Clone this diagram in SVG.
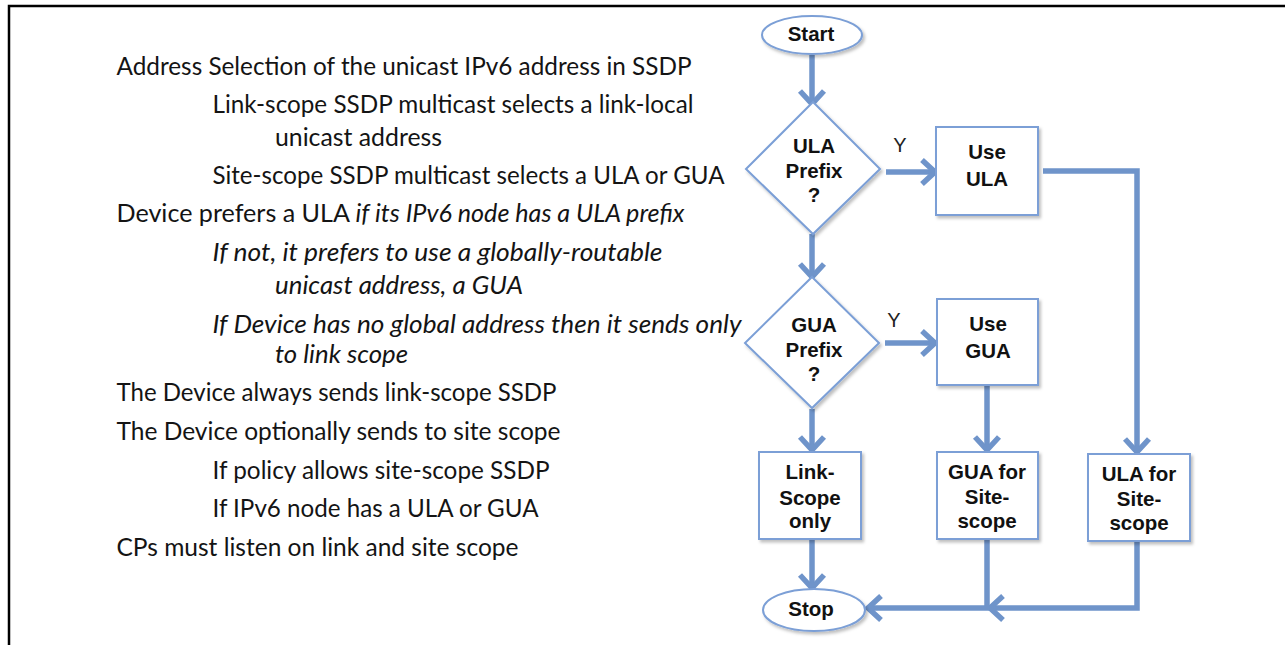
<svg xmlns="http://www.w3.org/2000/svg" width="1285" height="645" viewBox="0 0 1285 645">
  <defs>
    <style>
      .notes { font-family: Lato, "Liberation Sans", sans-serif; font-size: 24.5px; fill: #141414; }
      .it { font-style: italic; }
      .lbl { font-family: "Liberation Sans", Arial, sans-serif; font-size: 20.5px; font-weight: bold; fill: #111; text-anchor: middle; }
      .yes { font-family: "Liberation Sans", Arial, sans-serif; font-size: 20px; fill: #222; text-anchor: middle; }
      .shape { fill: #ffffff; stroke: #7b9fd6; stroke-width: 2; filter: url(#shadow); }
      .flow { fill: none; stroke: #6f94ca; stroke-width: 5.5; stroke-linejoin: miter; }
    </style>
    <filter id="shadow" x="-10%" y="-10%" width="125%" height="125%">
      <feDropShadow dx="2" dy="2.5" stdDeviation="1.5" flood-color="#000" flood-opacity="0.25"/>
    </filter>
    <marker id="head" markerUnits="userSpaceOnUse" markerWidth="30" markerHeight="30" viewBox="-16 -15 20 30" refX="0" refY="0" orient="auto">
      <path d="M -13 -12 L 0 0 L -13 12" fill="none" stroke="#6f94ca" stroke-width="5.5" stroke-linejoin="miter"/>
    </marker>
  </defs>

  <rect width="1285" height="645" fill="#ffffff"/>
  <!-- frame -->
  <path d="M 9 645 L 9 6 L 1285 6" fill="none" stroke="#000" stroke-width="2.5"/>

  <!-- notes -->
  <g id="notes" class="notes">
    <text x="116.5" y="75" textLength="575" lengthAdjust="spacingAndGlyphs">Address Selection of the unicast IPv6 address in SSDP</text>
    <text x="212.5" y="113" textLength="481" lengthAdjust="spacingAndGlyphs">Link-scope SSDP multicast selects a link-local</text>
    <text x="275" y="146" textLength="167" lengthAdjust="spacingAndGlyphs">unicast address</text>
    <text x="212.5" y="184" textLength="512" lengthAdjust="spacingAndGlyphs">Site-scope SSDP multicast selects a ULA or GUA</text>
    <text x="116.5" y="222" textLength="568" lengthAdjust="spacingAndGlyphs">Device prefers a ULA <tspan class="it">if its IPv6 node has a ULA prefix</tspan></text>
    <text class="it" x="212.5" y="261" textLength="450" lengthAdjust="spacingAndGlyphs">If not, it prefers to use a globally-routable</text>
    <text class="it" x="275" y="294" textLength="248" lengthAdjust="spacingAndGlyphs">unicast address, a GUA</text>
    <text class="it" x="212.5" y="333" textLength="529" lengthAdjust="spacingAndGlyphs">If Device has no global address then it sends only</text>
    <text class="it" x="275" y="363" textLength="133" lengthAdjust="spacingAndGlyphs">to link scope</text>
    <text x="116.5" y="401" textLength="440" lengthAdjust="spacingAndGlyphs">The Device always sends link-scope SSDP</text>
    <text x="116.5" y="440" textLength="444" lengthAdjust="spacingAndGlyphs">The Device optionally sends to site scope</text>
    <text x="212.5" y="479" textLength="337" lengthAdjust="spacingAndGlyphs">If policy allows site-scope SSDP</text>
    <text x="212.5" y="517" textLength="326" lengthAdjust="spacingAndGlyphs">If IPv6 node has a ULA or GUA</text>
    <text x="116.5" y="556" textLength="402" lengthAdjust="spacingAndGlyphs">CPs must listen on link and site scope</text>
  </g>

  <!-- connectors -->
  <g id="connectors" class="flow">
    <path d="M 812 55 L 812 104" marker-end="url(#head)"/>
    <path d="M 886 172 L 935 172" marker-end="url(#head)"/>
    <path d="M 812 234 L 812 277" marker-end="url(#head)"/>
    <path d="M 885 343 L 935 343" marker-end="url(#head)"/>
    <path d="M 812 409 L 812 450" marker-end="url(#head)"/>
    <path d="M 987 386 L 987 450" marker-end="url(#head)"/>
    <path d="M 812 540 L 812 588" marker-end="url(#head)"/>
    <path d="M 1043 171 L 1137 171 L 1137 452" marker-end="url(#head)"/>
    <path d="M 1137 542 L 1137 608 L 990 608" marker-end="url(#head)"/>
    <path d="M 987 540 L 987 608 L 868 608" marker-end="url(#head)"/>
  </g>
  <g id="branch-labels">
    <text class="yes" x="900" y="152">Y</text>
    <text class="yes" x="894" y="327">Y</text>
  </g>

  <!-- nodes -->
  <g id="start">
    <ellipse class="shape" cx="812" cy="35" rx="50" ry="19"/>
    <text class="lbl" x="811" y="41">Start</text>
  </g>
  <g id="ula-prefix">
    <polygon class="shape" points="813,102 880,169 813,234 746,169"/>
    <text class="lbl" x="814" y="153">ULA</text>
    <text class="lbl" x="814" y="178">Prefix</text>
    <text class="lbl" x="814" y="202">?</text>
  </g>
  <g id="use-ula">
    <rect class="shape" x="936" y="127" width="102" height="88"/>
    <text class="lbl" x="987" y="159">Use</text>
    <text class="lbl" x="987" y="186">ULA</text>
  </g>
  <g id="gua-prefix">
    <polygon class="shape" points="812,277 879,343 812,408 745,343"/>
    <text class="lbl" x="814" y="332">GUA</text>
    <text class="lbl" x="814" y="357">Prefix</text>
    <text class="lbl" x="814" y="381">?</text>
  </g>
  <g id="use-gua">
    <rect class="shape" x="937" y="299" width="101" height="86"/>
    <text class="lbl" x="988" y="331">Use</text>
    <text class="lbl" x="988" y="358">GUA</text>
  </g>
  <g id="link-scope-only">
    <rect class="shape" x="759" y="452" width="102" height="87"/>
    <text class="lbl" x="810" y="479">Link-</text>
    <text class="lbl" x="810" y="505">Scope</text>
    <text class="lbl" x="810" y="528">only</text>
  </g>
  <g id="gua-site-scope">
    <rect class="shape" x="937" y="452" width="101" height="87"/>
    <text class="lbl" x="987" y="479">GUA for</text>
    <text class="lbl" x="987" y="504">Site-</text>
    <text class="lbl" x="987" y="528">scope</text>
  </g>
  <g id="ula-site-scope">
    <rect class="shape" x="1088" y="454" width="102" height="87"/>
    <text class="lbl" x="1139" y="481">ULA for</text>
    <text class="lbl" x="1139" y="506">Site-</text>
    <text class="lbl" x="1139" y="530">scope</text>
  </g>
  <g id="stop">
    <ellipse class="shape" cx="814" cy="610" rx="51" ry="21"/>
    <text class="lbl" x="811" y="616">Stop</text>
  </g>
</svg>
